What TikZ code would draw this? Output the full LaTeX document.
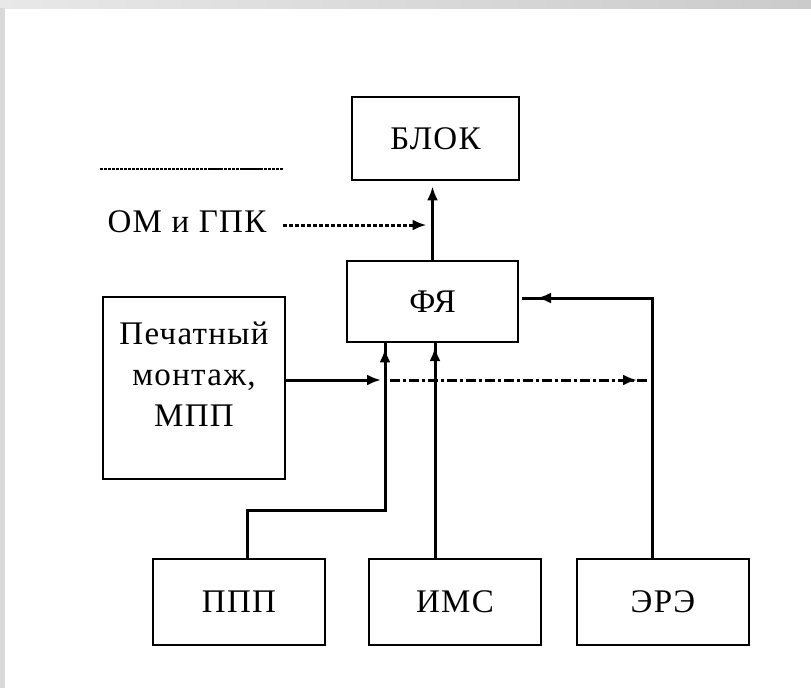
\documentclass[tikz,border=0pt]{standalone}
\usepackage{fontspec}
\setmainfont[LetterSpace=4]{Liberation Serif}
\usetikzlibrary{arrows.meta,decorations.markings}
\definecolor{bandL}{HTML}{E8E8E8}
\definecolor{bandR}{HTML}{CBCBCB}
\definecolor{stripC}{HTML}{D9D9D9}
\begin{document}
\begin{tikzpicture}[x=1pt,y=-1pt,
  box/.style={draw, line width=2.8pt, inner sep=0pt, font=\fontsize{33}{40}\selectfont},
  lbl/.style={inner sep=0pt, font=\fontsize{33}{41}\selectfont},
  conn/.style={line width=3pt},
  tip/.style={-{Latex[length=14pt,width=11pt]}},
  midarrow/.style={postaction={decorate}, decoration={markings, mark=at position #1 with {\arrow{Latex[length=14pt,width=11pt]}}}}]
% frame
\useasboundingbox (0,0) rectangle (811,688);
\fill[white] (0,0) rectangle (811,688);
\shade[left color=bandL, right color=bandR] (0,0) rectangle (811,8);
\fill[stripC] (0,8) rectangle (5,688);
% boxes
\node[box, minimum width=167pt, minimum height=83pt] (blok) at (435.5,138.5) {БЛОК};
\node[box, minimum width=171pt, minimum height=81pt] (fy) at (432.5,301.5) {ФЯ};
\node[box, minimum width=182pt, minimum height=182pt] (pm) at (194,388) {};
\node[lbl, align=center] (pmtext) at (194,374) {Печатный\\монтаж,\\МПП};
\node[box, minimum width=172pt, minimum height=86pt] (ppp) at (239,602) {ППП};
\node[box, minimum width=172pt, minimum height=86pt] (ims) at (455,602) {ИМС};
\node[box, minimum width=172pt, minimum height=86pt] (ere) at (663,602) {ЭРЭ};
\node[lbl] (om) at (187,222) {ОМ и ГПК};
% top dotted line
\draw[line width=2pt, dash pattern=on 2.5pt off 1.5pt] (100,169) -- (283,169);
\draw[line width=2.6pt] (208,169) -- (222,169) (242,169) -- (263,169);
% coordinates
\coordinate (omS) at (283,225);
\coordinate (omJ) at (432.5,225);
\coordinate (pmJ) at (385,380);
\coordinate (ddE) at (647,380);
\coordinate (pppT) at (247,510);
\coordinate (pppJ) at (385,510);
\coordinate (imsT) at (435,342);
\coordinate (ereT) at (652,298);
\coordinate (fyR) at (522,298);
% connectors
\draw[conn, tip, shorten >=5pt] (fy.north) -- (fy.north |- blok.south);
\draw[conn, dash pattern=on 4pt off 2pt, tip, shorten >=6pt] (omS) -- (omJ);
\draw[conn, tip, shorten >=4pt] (pm.east |- pmJ) -- (pmJ);
\draw[conn, dash pattern=on 10pt off 3pt on 3pt off 3pt, midarrow=-10pt] ([xshift=5pt]pmJ) -- (ddE);
\draw[conn, midarrow=-5pt] (ppp.north -| pppT) -- (pppT) -- (pppJ) -- (pppJ |- fy.south);
\draw[conn, midarrow=-5pt] (ims.north -| imsT) -- (imsT);
\draw[conn, midarrow=-15pt] (ere.north -| ereT) -- (ereT) -- (fyR);
\end{tikzpicture}
\end{document}
